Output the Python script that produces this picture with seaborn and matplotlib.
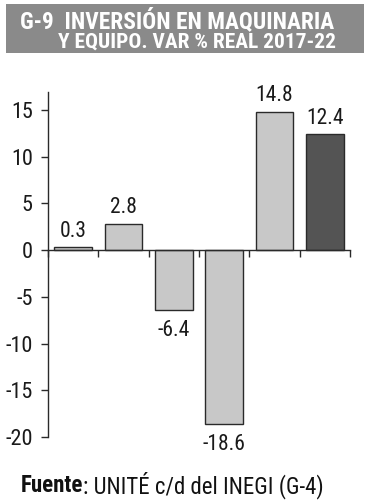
import matplotlib
matplotlib.use("Agg")
import matplotlib.pyplot as plt
import seaborn as sns
import pandas as pd
from matplotlib.patches import Rectangle
from matplotlib.ticker import FixedLocator, FuncFormatter

# data
years = ["2017", "2018", "2019", "2020", "2021", "2022"]
values = [0.3, 2.8, -6.4, -18.6, 14.8, 12.4]
bar_colors = ["#c8c8c8", "#c8c8c8", "#c8c8c8", "#c8c8c8", "#c8c8c8", "#545454"]
y_ticks = [-20, -15, -10, -5, 0, 5, 10, 15]

sns.set_style("white")
plt.rcParams["font.family"] = ["Roboto Condensed", "Roboto", "DejaVu Sans"]

df = pd.DataFrame({"year": years, "value": values})

fig = plt.figure(figsize=(3.76, 5.0), dpi=100)
ax = fig.add_axes([48 / 376, 1 - 437 / 500, 302 / 376, 345 / 500])

sns.barplot(data=df, x="year", y="value", hue="year", palette=bar_colors,
            legend=False, width=0.75, edgecolor="#2a2a2a", linewidth=1.0,
            saturation=1, ax=ax)

ax.set_xlim(-0.5, 5.5)
ax.set_ylim(-20, 16.9)

# labels on bars: above positive bars, below negative ones
for bar in ax.patches:
    h = bar.get_height()
    x = bar.get_x() + bar.get_width() / 2
    if h >= 0:
        ax.annotate("%.1f" % h, (x, h), xytext=(0, 4), textcoords="offset points",
                    ha="center", va="bottom", fontsize=15.5, color="#1a1a1a")
    else:
        ax.annotate("%.1f" % h, (x, h), xytext=(0, -7), textcoords="offset points",
                    ha="center", va="top", fontsize=15.5, color="#1a1a1a")

# axes styling
for s in ["top", "right"]:
    ax.spines[s].set_visible(False)
ax.spines["bottom"].set_position(("data", 0))
for s in ["left", "bottom"]:
    ax.spines[s].set_color("#2a2a2a")
    ax.spines[s].set_linewidth(1.0)
ax.spines["left"].set_bounds(-20, 16.9)

ax.xaxis.set_major_locator(FixedLocator([i - 0.5 for i in range(7)]))
ax.set_xticklabels([])
ax.yaxis.set_major_locator(FixedLocator(y_ticks))
ax.yaxis.set_major_formatter(FuncFormatter(lambda v, p: "%d" % v))
ax.tick_params(axis="x", direction="out", length=5, width=1, color="#2a2a2a", bottom=True)
ax.tick_params(axis="y", direction="out", length=5, width=1, color="#2a2a2a",
               left=True, labelsize=16, labelcolor="#1a1a1a", pad=6)
ax.set_xlabel("")
ax.set_ylabel("")


def fit_width(txt, target_px):
    # scale the font so the text spans target_px pixels
    fig.canvas.draw()
    w = txt.get_window_extent().width
    txt.set_fontsize(txt.get_fontsize() * target_px / w)


# title box
fig.patches.append(Rectangle((6 / 376, 1 - 53 / 500), 358 / 376, 49 / 500,
                             transform=fig.transFigure, facecolor="#8a8a8a",
                             edgecolor="none", zorder=0))
t1 = fig.text(20 / 376, 1 - 28 / 500, "G-9  INVERSIÓN EN MAQUINARIA", color="white",
              fontsize=14, fontweight="bold", va="baseline", ha="left")
t2 = fig.text(58 / 376, 1 - 48 / 500, "Y EQUIPO. VAR % REAL 2017-22", color="white",
              fontsize=14, fontweight="bold", va="baseline", ha="left")
fit_width(t1, 314)
fit_width(t2, 278)

# footer
f1 = fig.text(21 / 376, 1 - 485 / 500, "Fuente", fontsize=16.5, fontweight="bold",
              color="#111111", va="center", ha="left")
fig.canvas.draw()
bb = f1.get_window_extent()
fig.text(bb.x1 / fig.bbox.width, 1 - 485 / 500, ": UNITÉ c/d del INEGI (G-4)",
         fontsize=16.5, color="#111111", va="center", ha="left")

fig.savefig("out.png", dpi=100)
